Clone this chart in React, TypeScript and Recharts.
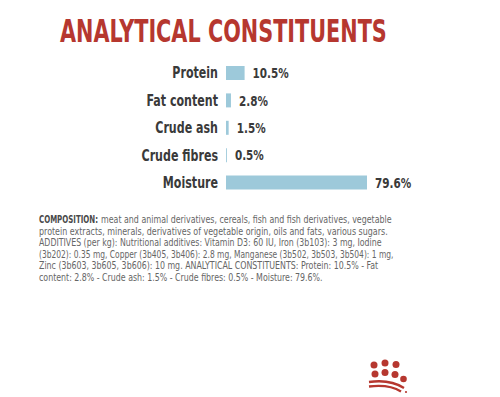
import { BarChart, Bar, XAxis, YAxis, LabelList } from "recharts";

const NUTRIENTS = ["Protein", "Fat content", "Crude ash", "Crude fibres", "Moisture"];
const PERCENTS = [10.5, 2.8, 1.5, 0.5, 79.6];

const TITLE = "ANALYTICAL CONSTITUENTS";

const COMPOSITION_HEAD = "COMPOSITION:";
const COMPOSITION_LINES = [
  "meat and animal derivatives, cereals, fish and fish derivatives, vegetable",
  "protein extracts, minerals, derivatives of vegetable origin, oils and fats, various sugars.",
  "ADDITIVES (per kg): Nutritional additives: Vitamin D3: 60 IU, Iron (3b103): 3 mg, Iodine",
  "(3b202): 0.35 mg, Copper (3b405, 3b406): 2.8 mg, Manganese (3b502, 3b503, 3b504): 1 mg,",
  "Zinc (3b603, 3b605, 3b606): 10 mg. ANALYTICAL CONSTITUENTS: Protein: 10.5% - Fat",
  "content: 2.8% - Crude ash: 1.5% - Crude fibres: 0.5% - Moisture: 79.6%.",
];
const LINE_ENDS = [392, 388, 382, 394, 379, 323];

const data = NUTRIENTS.map((name, i) => ({ name, value: PERCENTS[i] }));

const RED = "#b6372f";
const BLUE = "#9dc9da";
const DARK = "#3a3a3a";
const FAMILY = "DejaVu Sans Condensed";
const FONT = `'${FAMILY}', 'DejaVu Sans', sans-serif`;

const ctx = document.createElement("canvas").getContext("2d");
function textWidth(text: string, size: number, weight: number) {
  if (!ctx) return text.length * size * 0.55;
  ctx.font = `${weight} ${size}px '${FAMILY}'`;
  return ctx.measureText(text).width;
}

// squeeze a line into a given width (the brand font is narrower than anything installed)
function FitText({ x, y, width, text, size, weight = 400, fill }: any) {
  const s = width / textWidth(text, size, weight);
  return (
    <text
      transform={`translate(${x},${y}) scale(${s},1)`}
      fill={fill}
      fontFamily={FONT}
      fontWeight={weight}
      fontSize={size}
    >
      {text}
    </text>
  );
}

const NameTick = ({ x, y, payload }: any) => (
  <text
    transform={`translate(${x},${y}) scale(0.77,1)`}
    textAnchor="end"
    dy="0.36em"
    fill={DARK}
    fontFamily={FONT}
    fontWeight={700}
    fontSize={16}
  >
    {payload.value}
  </text>
);

const ValueLabel = ({ x, y, width, height, value }: any) => (
  <text
    transform={`translate(${x + width + 8},${y + height / 2}) scale(0.8,1)`}
    dy="0.36em"
    fill={DARK}
    fontFamily={FONT}
    fontWeight={700}
    fontSize={14.5}
  >
    {`${value}%`}
  </text>
);

export default function App() {
  return (
    <div style={{ position: "absolute", left: 0, top: 0, width: 500, height: 397, background: "#fff" }}>
      <svg width={500} height={397} style={{ position: "absolute", left: 0, top: 0 }}>
        <FitText x={60} y={42} width={327} text={TITLE} size={32} weight={700} fill={RED} />

        <FitText x={39} y={223} width={59} text={COMPOSITION_HEAD} size={10.5} weight={700} fill="#4a4a4a" />
        {COMPOSITION_LINES.map((line, i) => {
          const x0 = i === 0 ? 101 : 39;
          return (
            <FitText
              key={i}
              x={x0}
              y={223 + i * 11.5}
              width={LINE_ENDS[i] - x0}
              text={line}
              size={10.5}
              fill="#666"
            />
          );
        })}

        <g fill={RED}>
          <circle cx={374} cy={365} r={3.5} />
          <circle cx={385} cy={363} r={3.5} />
          <circle cx={396} cy={364.5} r={3.5} />
          <circle cx={375} cy={374} r={3.5} />
          <circle cx={385} cy={372.5} r={3.5} />
          <circle cx={395} cy={374.5} r={3.5} />
          <circle cx={403.5} cy={379} r={3.3} />
          <circle cx={406} cy={392} r={1.1} />
        </g>
        <path d="M369 382 Q390 379 404 388" stroke={RED} strokeWidth={2.3} fill="none" />
        <path d="M369 386.5 Q389 384 401 391.5" stroke={RED} strokeWidth={2.3} fill="none" />
      </svg>

      <div style={{ position: "absolute", left: 0, top: 59 }}>
        <BarChart
          width={500}
          height={137}
          data={data}
          layout="vertical"
          margin={{ top: 0, right: 133, bottom: 0, left: 0 }}
          barCategoryGap={13}
        >
          <XAxis type="number" hide domain={[0, "dataMax"]} />
          <YAxis
            type="category"
            dataKey="name"
            width={226}
            axisLine={false}
            tickLine={false}
            tickSize={0}
            tickMargin={8}
            tick={<NameTick />}
          />
          <Bar dataKey="value" fill={BLUE} barSize={14} isAnimationActive={false}>
            <LabelList dataKey="value" content={<ValueLabel />} />
          </Bar>
        </BarChart>
      </div>
    </div>
  );
}
